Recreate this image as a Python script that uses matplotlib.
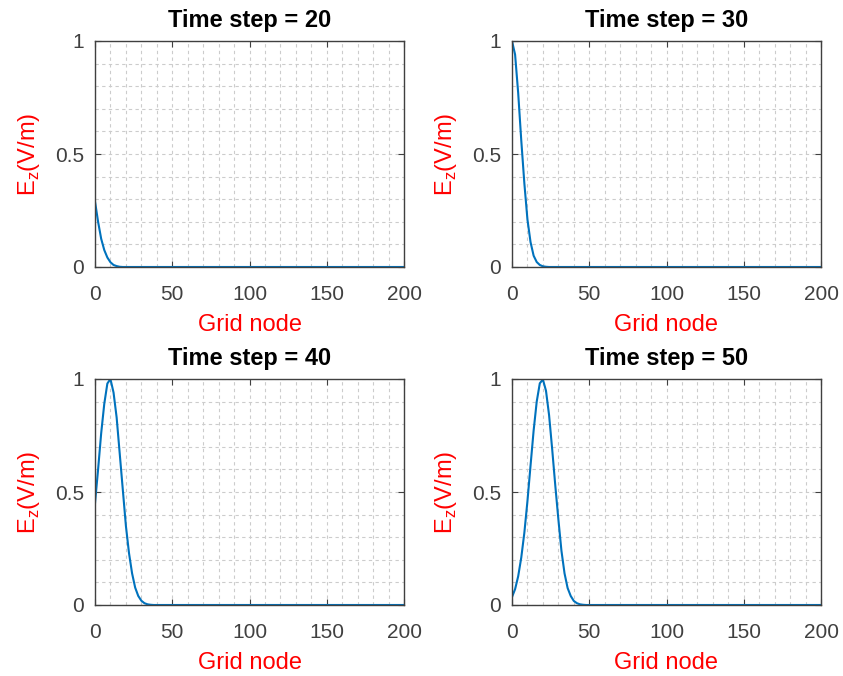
import numpy as np
import matplotlib
matplotlib.use('Agg')
import matplotlib.pyplot as plt
from matplotlib.ticker import MultipleLocator

plt.rcParams['font.family'] = ['Liberation Sans', 'DejaVu Sans']
plt.rcParams['mathtext.fontset'] = 'custom'
plt.rcParams['mathtext.rm'] = 'Liberation Sans'

# time steps shown in the four panels
steps = [20, 30, 40, 50]

ez_20 = [0.29, 0.20, 0.125, 0.075, 0.042, 0.021, 0.009, 0.004, 0.001, 0.0]
ez_30 = [1.0, 0.94, 0.77, 0.56, 0.37, 0.21, 0.11, 0.05, 0.022, 0.009,
         0.003, 0.001, 0.0]
ez_40 = [0.45, 0.60, 0.76, 0.89, 0.98, 1.0, 0.94, 0.83, 0.67, 0.51,
         0.35, 0.23, 0.14, 0.077, 0.04, 0.019, 0.008, 0.003, 0.001, 0.0]
ez_50 = [0.035, 0.07, 0.127, 0.21, 0.32, 0.46, 0.617, 0.772, 0.90, 0.981,
         0.998, 0.948, 0.84, 0.69, 0.53, 0.38, 0.24, 0.14, 0.075, 0.04,
         0.018, 0.008, 0.003, 0.001, 0.0]
series = [ez_20, ez_30, ez_40, ez_50]

n_nodes = 200
dx_nodes = 2

fig = plt.figure(figsize=(8.43, 6.76), dpi=100)

lefts = [95, 512]
tops = [41, 379]
w, h = 309, 226
W, H = 843, 676

dark = '#404040'
for i, (step, ez) in enumerate(zip(steps, series)):
    l = lefts[i % 2]
    t = tops[i // 2]
    ax = fig.add_axes([l / W, 1 - (t + h) / H, w / W, h / H])

    x = list(np.arange(len(ez)) * dx_nodes) + [n_nodes]
    y = list(ez) + [0.0]
    ax.plot(x, y, color='#0072BD', lw=1.5)

    ax.set_xlim(0, n_nodes)
    ax.set_ylim(0, 1)
    ax.set_xticks([0, 50, 100, 150, 200])
    ax.set_yticks([0, 0.5, 1])
    ax.set_yticklabels(['0', '0.5', '1'])
    ax.xaxis.set_minor_locator(MultipleLocator(10))
    ax.yaxis.set_minor_locator(MultipleLocator(0.1))
    ax.grid(True, which='both', ls=(0, (3, 3)), color='#cccccc', lw=0.8)
    ax.set_axisbelow(True)
    ax.tick_params(which='both', direction='in', top=True, right=True,
                   colors=dark, labelsize=15)
    ax.tick_params(axis='x', pad=13)
    ax.tick_params(axis='y', pad=8)
    ax.tick_params(which='major', length=4)
    ax.tick_params(which='minor', length=0)
    for s in ax.spines.values():
        s.set_color(dark)
        s.set_linewidth(1.0)

    ax.set_title('Time step = %d' % step, fontsize=17, fontweight='bold',
                 color='black', pad=10)
    ax.set_xlabel('Grid node', color='red', fontsize=17, labelpad=7)
    ax.set_ylabel(r'E$_\mathrm{z}$(V/m)', color='red', fontsize=17,
                  labelpad=9)

fig.savefig('out.png', dpi=100)
